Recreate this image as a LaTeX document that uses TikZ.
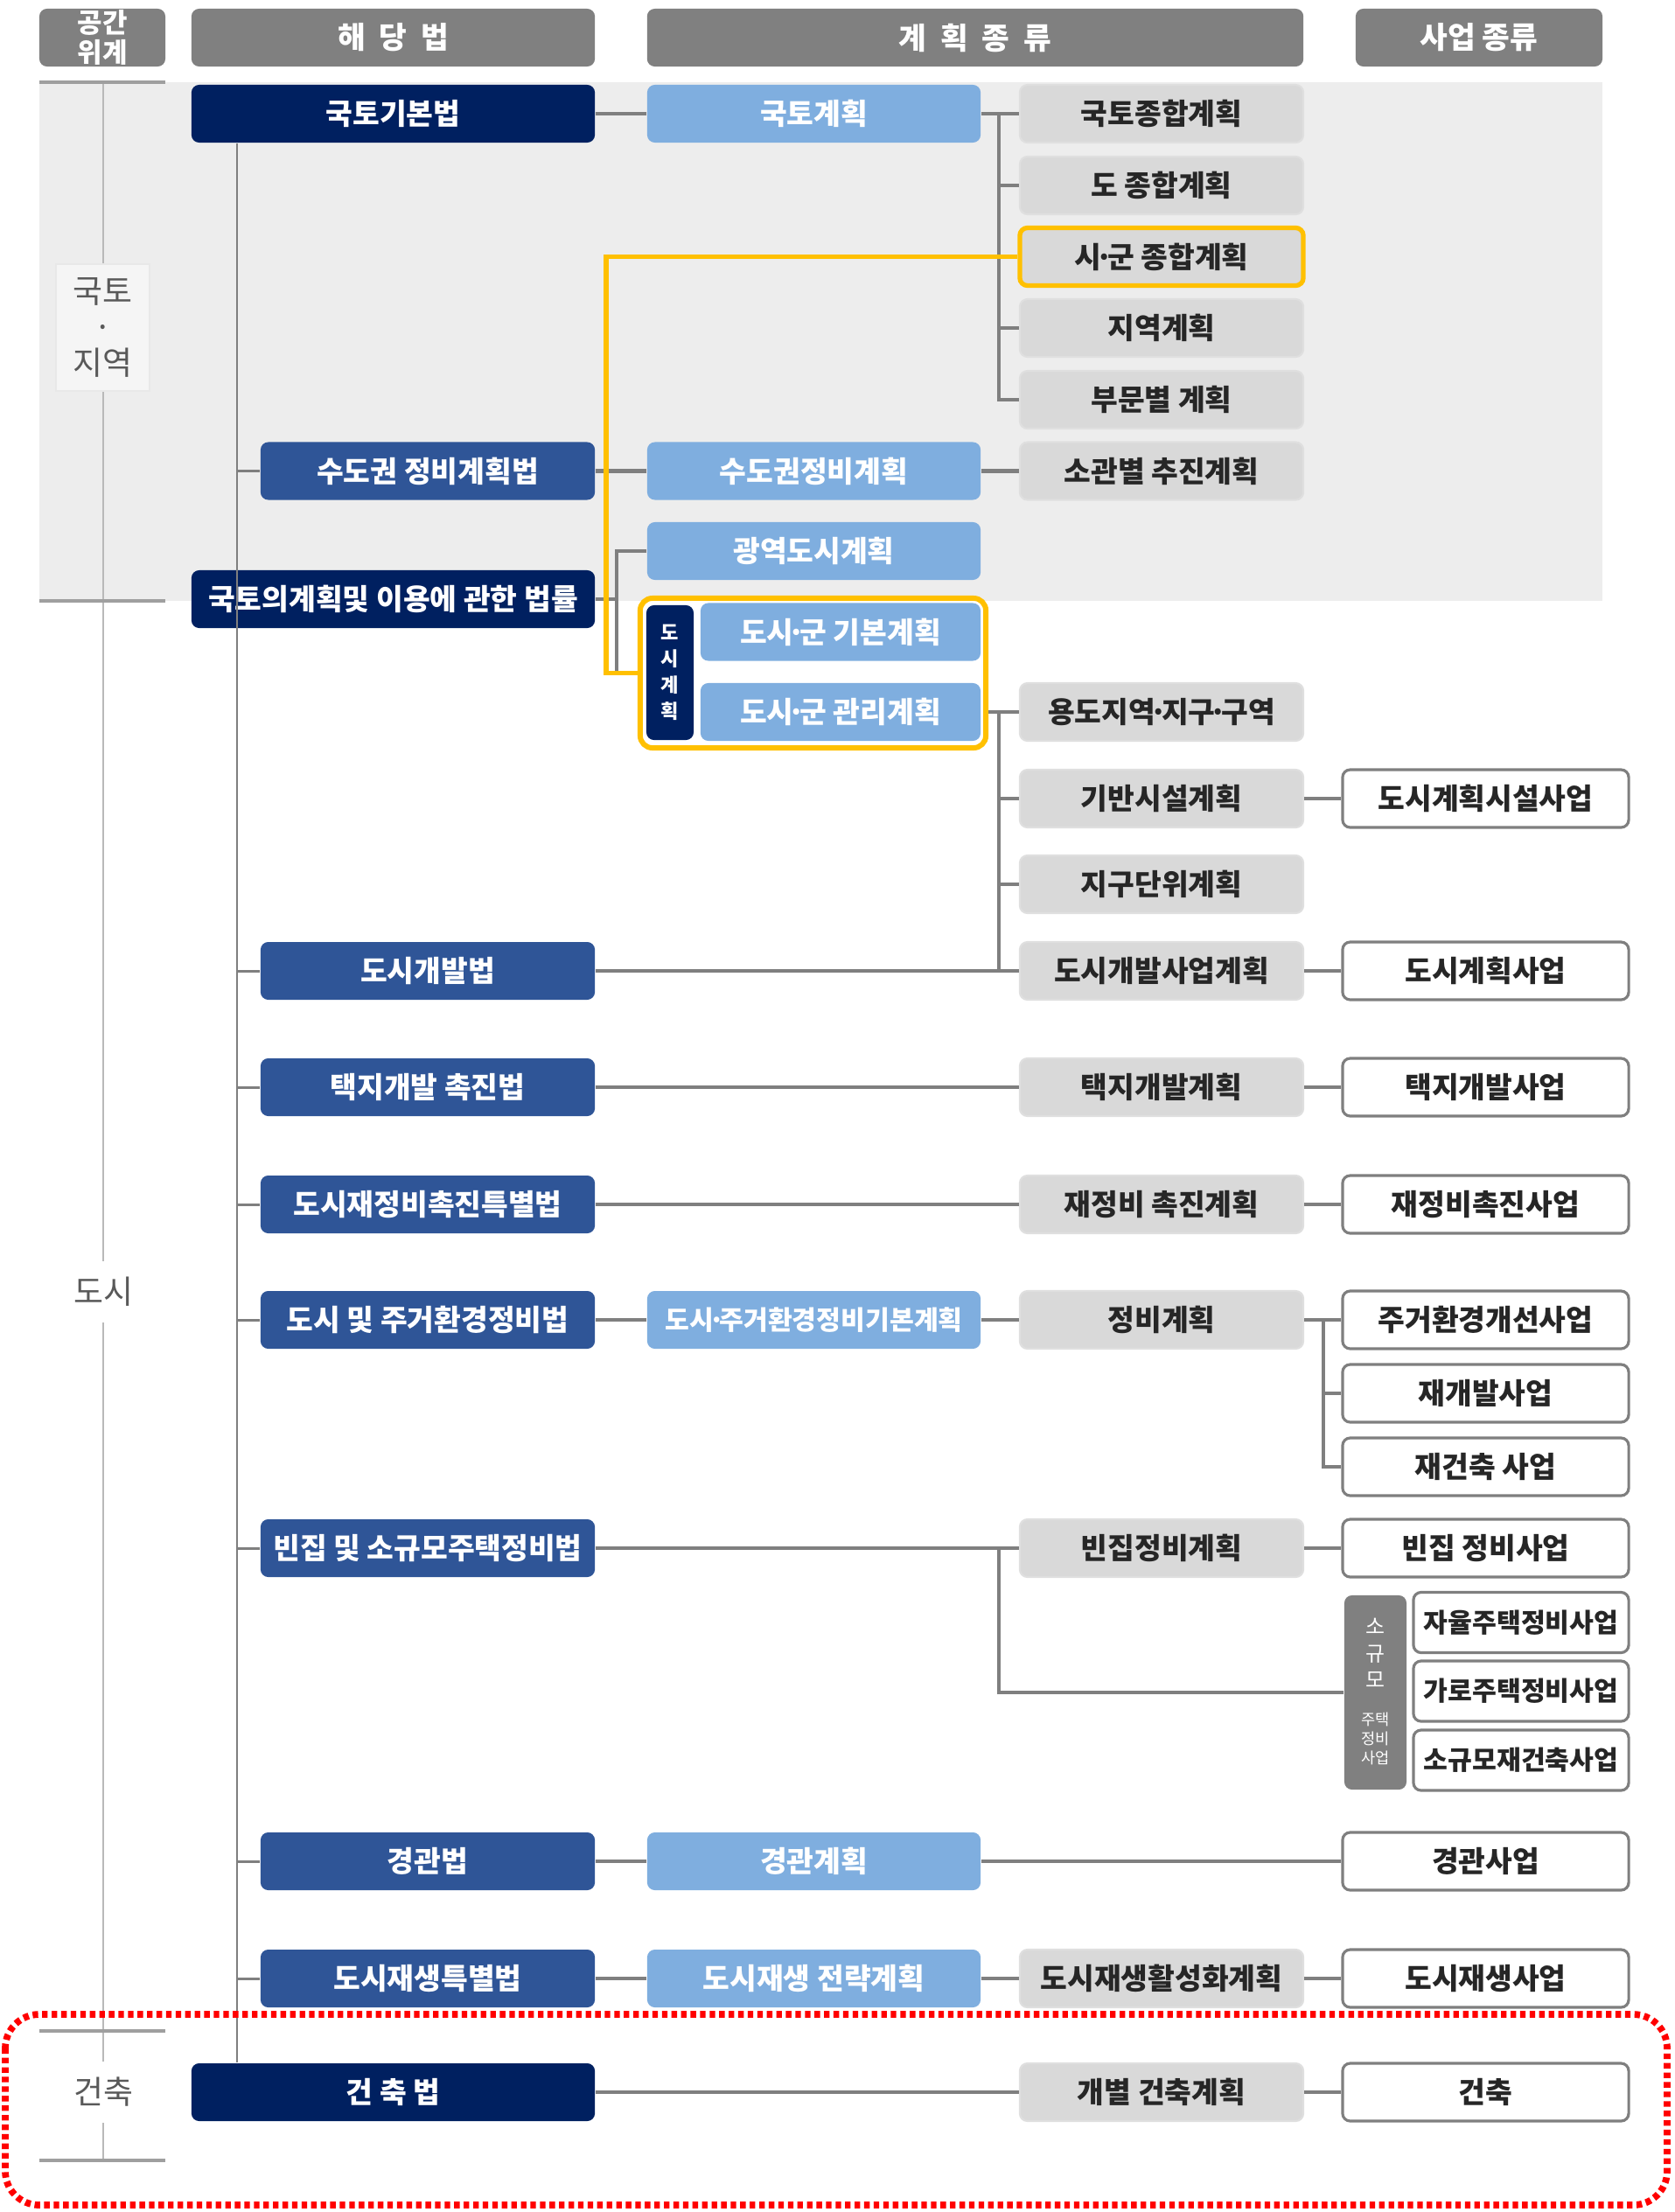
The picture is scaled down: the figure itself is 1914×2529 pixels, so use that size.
\documentclass[tikz,border=0pt]{standalone}
\usepackage{fontspec}
\setmainfont{Noto Sans CJK KR}
\usetikzlibrary{calc}
\newcommand{\mdot}{\kern-0.2em·\kern-0.2em}
\definecolor{navyc}{HTML}{002060}
\definecolor{medc}{HTML}{2F5597}
\definecolor{lightc}{HTML}{7FAEDF}
\definecolor{grayc}{HTML}{D9D9D9}
\definecolor{hdrc}{HTML}{808080}
\definecolor{bandc}{HTML}{EDEDED}
\definecolor{yelc}{HTML}{FFC000}
\definecolor{txtc}{HTML}{262626}
\definecolor{linec}{HTML}{7F7F7F}
\definecolor{labc}{HTML}{595959}
\definecolor{redc}{HTML}{FF0000}
\tikzset{
  base/.style={rounded corners=2.5pt, minimum height=0.66cm, inner sep=0pt, align=center, font=\bfseries\fontsize{9.5}{11}\selectfont},
  hdr/.style={base, fill=hdrc, text=white, font=\bfseries\fontsize{9.8}{11}\selectfont},
  navyb/.style={base, fill=navyc, text=white, minimum width=4.61cm},
  medb/.style={base, fill=medc, text=white, minimum width=3.82cm},
  lblue/.style={base, fill=lightc, text=white, minimum width=3.81cm},
  gbox/.style={base, fill=grayc, draw=gray!25, line width=0.6pt, text=txtc, minimum width=3.24cm},
  wbox/.style={base, fill=white, draw=linec, line width=0.9pt, text=txtc, minimum width=3.27cm},
  sbox/.style={wbox, minimum width=2.46cm, minimum height=0.69cm, font=\bfseries\fontsize{8.6}{10}\selectfont},
  conn/.style={draw=linec, line width=1.15pt},
  trunk/.style={draw=linec, line width=0.85pt},
  yel/.style={draw=yelc, line width=1.5pt},
  lab/.style={inner sep=0pt, align=center, text=labc, font=\fontsize{10.5}{11.7}\selectfont},
}
\begin{document}
\begin{tikzpicture}[x=0.01cm,y=-0.01cm]
\useasboundingbox (0,0) rectangle (1914,2529);
% background band
\fill[bandc] (45,94) rectangle (1832,687);
% left column lines
\draw[draw=gray!55, line width=0.6pt] (118,94) -- (118,2470);
\foreach \yy in {94,687,2322,2470}{\draw[draw=gray!75, line width=1.1pt] (45,\yy) -- (189,\yy);}
% left labels
\node[lab, fill=gray!8, draw=gray!18, minimum width=1.07cm, minimum height=1.45cm] (l1) at (117.5,374.5) {국토\\·\\지역};
\node[lab, fill=white, minimum width=1.0cm, minimum height=0.7cm] (l2) at (118,1477) {도시};
\node[lab, fill=white, minimum width=1.0cm, minimum height=0.7cm] (l3) at (118,2392) {건축};
% headers
\node[hdr, minimum width=1.44cm, font=\bfseries\fontsize{8.8}{9.6}\selectfont] (h1) at (117,43) {공간\\위계};
\node[hdr, minimum width=4.61cm] (h2) at (449.5,43) {해\ \ 당\ \ 법};
\node[hdr, minimum width=7.5cm] (h3) at (1115,43) {계\ \ 획\ \ 종\ \ 류};
\node[hdr, minimum width=2.82cm] (h4) at (1691,43) {사업 종류};
% laws
\node[navyb] (law1) at (449.5,130) {국토기본법};
\node[medb] (law2) at (489,538.5) {수도권 정비계획법};
\node[navyb, font=\bfseries\fontsize{9.5}{11}\selectfont] (law3) at (449.5,685) {국토의계획및 이용에 관한 법률};
\node[medb] (law4) at (489,1110) {도시개발법};
\node[medb] (law5) at (489,1243) {택지개발 촉진법};
\node[medb] (law6) at (489,1377) {도시재정비촉진특별법};
\node[medb] (law7) at (489,1509) {도시 및 주거환경정비법};
\node[medb] (law8) at (489,1770) {빈집 및 소규모주택정비법};
\node[medb] (law9) at (489,2128) {경관법};
\node[medb] (law10) at (489,2262) {도시재생특별법};
\node[navyb] (law11) at (449.5,2392) {건\ 축\ 법};
% plans
\node[lblue] (p1) at (930.5,130) {국토계획};
\node[lblue] (p2) at (930.5,538.5) {수도권정비계획};
\node[lblue] (p3) at (930.5,630) {광역도시계획};
\node[lblue, minimum width=3.2cm] (p4) at (961,722.5) {도시\mdot 군 기본계획};
\node[lblue, minimum width=3.2cm] (p5) at (961,814) {도시\mdot 군 관리계획};
\node[base, fill=navyc, text=white, minimum width=0.54cm, minimum height=1.54cm, font=\bfseries\fontsize{6.3}{8.5}\selectfont] (dtag) at (766,769) {도\\시\\계\\획};
\node[draw=yelc, line width=1.7pt, rounded corners=4pt, minimum width=3.95cm, minimum height=1.71cm, inner sep=0pt] (ybox) at (929.5,769.5) {};
\node[lblue, font=\bfseries\fontsize{8.6}{10}\selectfont] (p6) at (930.5,1509) {도시\mdot 주거환경정비기본계획};
\node[lblue] (p7) at (930.5,2128) {경관계획};
\node[lblue] (p8) at (930.5,2262) {도시재생 전략계획};
% gray plans
\node[gbox] (g1) at (1328,130) {국토종합계획};
\node[gbox] (g2) at (1328,212) {도 종합계획};
\node[gbox, draw=yelc, line width=1.5pt] (g3) at (1328,293.5) {시\mdot 군 종합계획};
\node[gbox] (g4) at (1328,375) {지역계획};
\node[gbox] (g5) at (1328,457) {부문별 계획};
\node[gbox] (g6) at (1328,538.5) {소관별 추진계획};
\node[gbox] (u1) at (1328,814) {용도지역\mdot 지구\mdot 구역};
\node[gbox] (u2) at (1328,913) {기반시설계획};
\node[gbox] (u3) at (1328,1011) {지구단위계획};
\node[gbox] (u4) at (1328,1110) {도시개발사업계획};
\node[gbox] (t1) at (1328,1243) {택지개발계획};
\node[gbox] (r1) at (1328,1377) {재정비 촉진계획};
\node[gbox] (j1) at (1328,1509) {정비계획};
\node[gbox] (b1) at (1328,1770) {빈집정비계획};
\node[gbox] (d1) at (1328,2262) {도시재생활성화계획};
\node[gbox] (k1) at (1328,2392) {개별 건축계획};
% businesses
\node[wbox] (w1) at (1698.5,913) {도시계획시설사업};
\node[wbox] (w2) at (1698.5,1110) {도시계획사업};
\node[wbox] (w3) at (1698.5,1243) {택지개발사업};
\node[wbox] (w4) at (1698.5,1377) {재정비촉진사업};
\node[wbox] (w5) at (1698.5,1509) {주거환경개선사업};
\node[wbox] (w6) at (1698.5,1593) {재개발사업};
\node[wbox] (w7) at (1698.5,1677) {재건축 사업};
\node[wbox] (w8) at (1698.5,1770) {빈집 정비사업};
\node[base, fill=hdrc, minimum width=0.71cm, minimum height=2.22cm] (stag) at (1572.5,1935) {};
\node[inner sep=0pt, align=center, text=white, font=\fontsize{6.8}{8.6}\selectfont] (stagA) at (1572.5,1890) {소\\규\\모};
\node[inner sep=0pt, align=center, text=white, font=\fontsize{5}{6.2}\selectfont] (stagB) at (1572.5,1988) {주택\\정비\\사업};
\node[sbox] (w9) at (1739,1855) {자율주택정비사업};
\node[sbox] (w10) at (1739,1933.5) {가로주택정비사업};
\node[sbox] (w11) at (1739,2012.5) {소규모재건축사업};
\node[wbox] (w12) at (1698.5,2128) {경관사업};
\node[wbox] (w13) at (1698.5,2262) {도시재생사업};
\node[wbox] (w14) at (1698.5,2392) {건축};
% coordinates
\coordinate (tx) at (271,0);
\coordinate (bx) at (1142,0);
\coordinate (sx) at (1513,0);
\coordinate (yx) at (693,0);
\coordinate (gx) at (705,0);
% law trunk
\draw[trunk] (law1.south -| tx) -- (law11.north -| tx);
\foreach \n in {law2,law4,law5,law6,law7,law8,law9,law10}{\draw[trunk] (\n.west -| tx) -- (\n.west);}
% top group
\draw[conn] (law1.east) -- (p1.west);
\draw[conn] (p1.east) -- (g1.west);
\draw[conn] (g1.west -| bx) |- (g5.west);
\foreach \n in {g2,g3,g4}{\draw[conn] (\n.west -| bx) -- (\n.west);}
\draw[conn] (law2.east) -- (p2.west);
\draw[conn] (p2.east) -- (g6.west);
% national planning law
\draw[conn] (law3.east) -- (law3.east -| gx);
\draw[conn] (p3.west) -| (ybox.west -| gx) -- (ybox.west);
\draw[yel] (g3.west) -| (ybox.west -| yx) -- (ybox.west);
% management plan bracket
\draw[conn] (u1.west -| ybox.east) -- (u1.west);
\draw[conn] (u1.west -| bx) -- (u4.west -| bx);
\foreach \n in {u2,u3,u4}{\draw[conn] (\n.west -| bx) -- (\n.west);}
\draw[conn] (law4.east) -- (u4.west -| bx);
\draw[conn] (u2.east) -- (w1.west);
\draw[conn] (u4.east) -- (w2.west);
% land development
\draw[conn] (law5.east) -- (t1.west);
\draw[conn] (t1.east) -- (w3.west);
% redevelopment promotion
\draw[conn] (law6.east) -- (r1.west);
\draw[conn] (r1.east) -- (w4.west);
% urban residential
\draw[conn] (law7.east) -- (p6.west);
\draw[conn] (p6.east) -- (j1.west);
\draw[conn] (j1.east) -- (w5.west);
\draw[conn] (w5.west -| sx) |- (w7.west);
\draw[conn] (w6.west -| sx) -- (w6.west);
% vacant houses
\draw[conn] (law8.east) -- (b1.west);
\draw[conn] (b1.east) -- (w8.west);
\draw[conn] (b1.west -| bx) |- (stag.west);
% landscape
\draw[conn] (law9.east) -- (p7.west);
\draw[conn] (p7.east) -- (w12.west);
% regeneration
\draw[conn] (law10.east) -- (p8.west);
\draw[conn] (p8.east) -- (d1.west);
\draw[conn] (d1.east) -- (w13.west);
% building
\draw[conn] (law11.east) -- (k1.west);
\draw[conn] (k1.east) -- (w14.west);
% red dotted frame
\draw[draw=redc, line width=2.2pt, dash pattern=on 1.8pt off 1.3pt, rounded corners=11pt] (6,2303) rectangle (1906,2521);
\end{tikzpicture}
\end{document}
